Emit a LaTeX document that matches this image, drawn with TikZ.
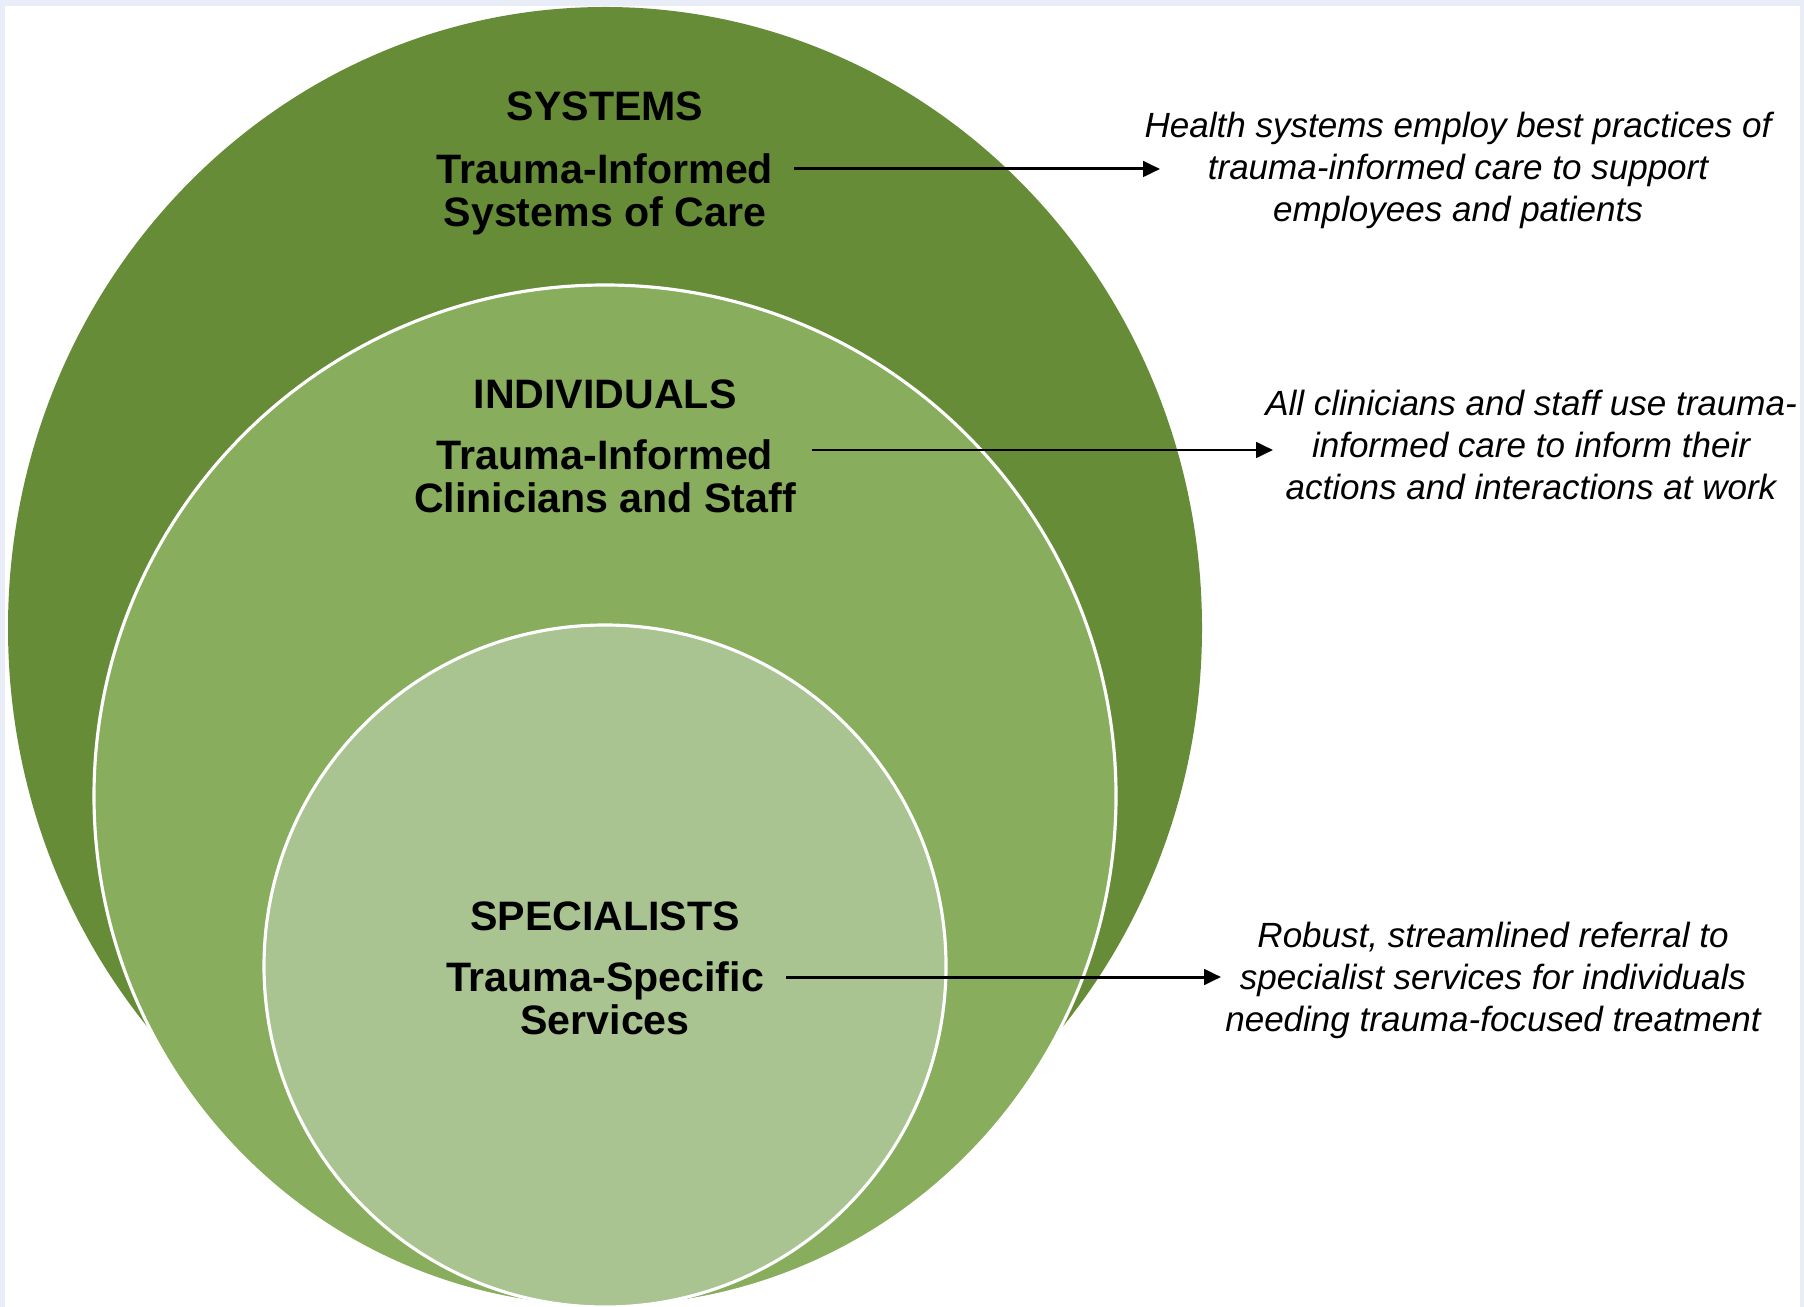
\documentclass[tikz,border=0pt]{standalone}
\usepackage{fontspec}
\setmainfont{Liberation Sans}
\usepackage{tikz}
\usetikzlibrary{arrows.meta}

\definecolor{sysgreen}{RGB}{103,140,56}
\definecolor{indgreen}{RGB}{135,173,93}
\definecolor{specgreen}{RGB}{169,195,145}
\definecolor{pagebg}{RGB}{233,237,248}

\tikzset{
  levelname/.style={anchor=base, font=\bfseries\fontsize{11.7}{11.7}\selectfont},
  levelsub/.style={align=center, font=\bfseries\fontsize{11.7}{12.2}\selectfont},
  levelnote/.style={align=center, font=\itshape\fontsize{9.96}{11.95}\selectfont},
  pointer/.style={-{Triangle[length=4.8pt,width=4.4pt]}, line width=0.85pt}
}

\begin{document}
\begin{tikzpicture}[x=0.01cm, y=-0.01cm]
          \fill[pagebg] (0,0) rectangle (1804,1307);
          \useasboundingbox (0,0) rectangle (1804,1307);
          \fill[white] (5,6) rectangle (1800,1307);

          % the three rings
          \fill[sysgreen] (605,628) ellipse (597 and 621);
          \filldraw[fill=indgreen, draw=white, line width=0.9pt] (605,796) circle (511);
          \filldraw[fill=specgreen, draw=white, line width=0.9pt] (605,966) circle (341);

          \node[levelname] (systitle) at (605,121) {SYSTEMS};
          \node[levelsub] (syssub) at (605,194) {Trauma-Informed\\Systems of Care};
          \node[levelname] (indtitle) at (605,409) {INDIVIDUALS};
          \node[levelsub] (indsub) at (605,476) {Trauma-Informed\\Clinicians and Staff};
          \node[levelname] (spectitle) at (605,930) {SPECIALISTS};
          \node[levelsub] (specsub) at (605,998) {Trauma-Specific\\Services};

          \node[levelnote] (sysnote) at (1458,170) {Health systems employ best practices of\\trauma-informed care to support\\employees and patients};
          \node[levelnote] (indnote) at (1531,445) {All clinicians and staff use trauma-\\informed care to inform their\\actions and interactions at work};
          \node[levelnote] (specnote) at (1493,980) {Robust, streamlined referral to\\specialist services for individuals\\needing trauma-focused treatment};

          \coordinate (sysfrom) at (794,169);
          \coordinate (systo) at (1160,169);
          \coordinate (indfrom) at (812,450);
          \coordinate (indto) at (1273,450);
          \coordinate (specfrom) at (786,977);
          \coordinate (specto) at (1221,977);
          \draw[pointer] (sysfrom) -- (systo);
          \draw[pointer] (indfrom) -- (indto);
          \draw[pointer] (specfrom) -- (specto);
\end{tikzpicture}
\end{document}
